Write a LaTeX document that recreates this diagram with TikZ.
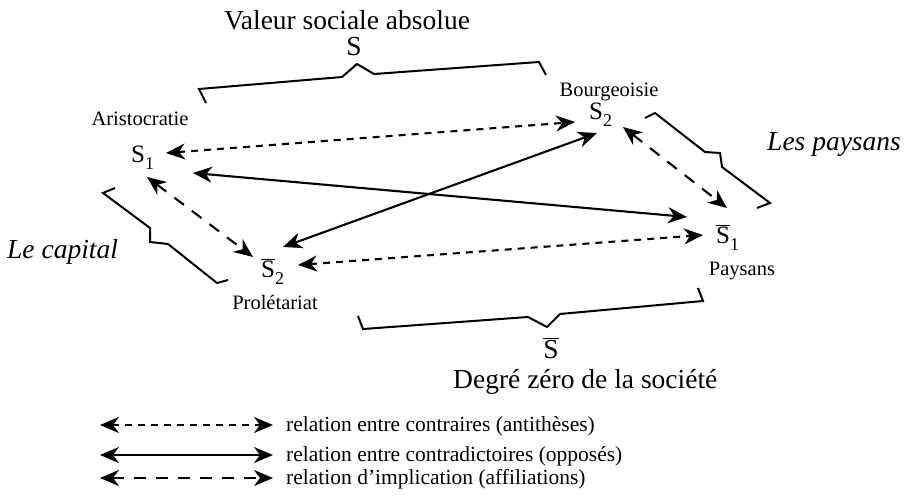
\documentclass[tikz,border=0pt]{standalone}
\usepackage{fontspec}
\setmainfont{Liberation Serif}
\usetikzlibrary{arrows.meta}
\newcommand\lblfont{\fontsize{20.5}{24}\selectfont}
\newcommand\legfont{\fontsize{21.5}{24}\selectfont}
\newcommand\bigfont{\fontsize{27.5}{32}\selectfont}
\newcommand\sfont{\fontsize{25}{28}\selectfont}
\newcommand\subsc[1]{\raisebox{-7pt}{\fontsize{18}{20}\selectfont #1}}
\newcommand\Sbar{$\overline{\mbox{S}}$}
\begin{document}
\begin{tikzpicture}[x=1pt,y=-1pt,
  lbl/.style={inner sep=0pt, font=\lblfont, anchor=base},
  big/.style={inner sep=0pt, font=\bigfont, anchor=base},
  bigit/.style={inner sep=0pt, font=\bigfont\itshape, anchor=base west},
  sn/.style={inner sep=0pt, font=\sfont, anchor=base west},
  leg/.style={inner sep=0pt, font=\legfont, anchor=base west},
  tip/.style={{Stealth[length=19pt,width=16pt,inset=6pt]}-{Stealth[length=19pt,width=16pt,inset=6pt]}},
  rel/.style={line width=2.1pt, tip},
  contraire/.style={rel, dash pattern=on 7pt off 6pt},
  contradict/.style={rel},
  implic/.style={rel, dash pattern=on 12pt off 10pt},
  brace/.style={line width=2pt, line join=miter}
]
\useasboundingbox (0,0) rectangle (907,500);

% labels
\node[big] (title) at (347,30) {Valeur sociale absolue};
\node[big] (stop) at (354,56) {S};
\node[lbl] (aristo) at (140,126) {Aristocratie};
\node[sn] (s1) at (131,162) {S\subsc{1}};
\node[lbl] (bourg) at (609,97) {Bourgeoisie};
\node[sn] (s2) at (589,120) {S\subsc{2}};
\node[bigit] (paysans) at (767,150) {Les paysans};
\node[bigit] (capital) at (7,258) {Le capital};
\node[sn] (ns2) at (261,277) {\Sbar\subsc{2}};
\node[lbl] (prol) at (275,309) {Prolétariat};
\node[sn] (ns1) at (716,243) {\Sbar\subsc{1}};
\node[lbl] (pays) at (742,275) {Paysans};
\node[big] (sbot) at (551,358) {\Sbar};
\node[big, anchor=base west] (degre) at (453,388) {Degré zéro de la société};

% braces
\draw[brace] (206,103) -- (199,89) -- (342,77) -- (357,64) -- (374,74) -- (539,62) -- (546,75);
\draw[brace] (645,118) -- (655,113) -- (705,152) -- (720,153) -- (722,167) -- (770,203) -- (757,208);
\draw[brace] (115,188) -- (103,193) -- (150,228) -- (150,242) -- (168,244) -- (217,283) -- (228,280);
\draw[brace] (358,316) -- (363,329) -- (528,317) -- (547,327) -- (560,314) -- (703,301) -- (698,288);

% relations
\draw[contraire] ([shift={(35,-9)}]s1.base west) -- ([shift={(-14,2)}]s2.base west);
\draw[contradict] ([shift={(62,11)}]s1.base west) -- ([shift={(-29,-26)}]ns1.base west);
\draw[contradict] ([shift={(22,-30)}]ns2.base west) -- ([shift={(8,13)}]s2.base west);
\draw[contraire] ([shift={(37,-12)}]ns2.base west) -- ([shift={(-13,-8)}]ns1.base west);
\draw[implic] ([shift={(16,15)}]s1.base west) -- ([shift={(-8,-20)}]ns2.base west);
\draw[implic] ([shift={(34,7)}]s2.base west) -- ([shift={(11,-35)}]ns1.base west);

% legend
\coordinate (l1a) at (100,425); \coordinate (l1b) at (273,425);
\coordinate (l2a) at (100,455); \coordinate (l2b) at (273,455);
\coordinate (l3a) at (100,478); \coordinate (l3b) at (273,478);
\draw[contraire] (l1a) -- (l1b);
\draw[contradict] (l2a) -- (l2b);
\draw[implic] (l3a) -- (l3b);
\node[leg] (t1) at (286,431) {relation entre contraires (antithèses)};
\node[leg] (t2) at (286,461) {relation entre contradictoires (opposés)};
\node[leg] (t3) at (286,484) {relation d’implication (affiliations)};
\end{tikzpicture}
\end{document}
